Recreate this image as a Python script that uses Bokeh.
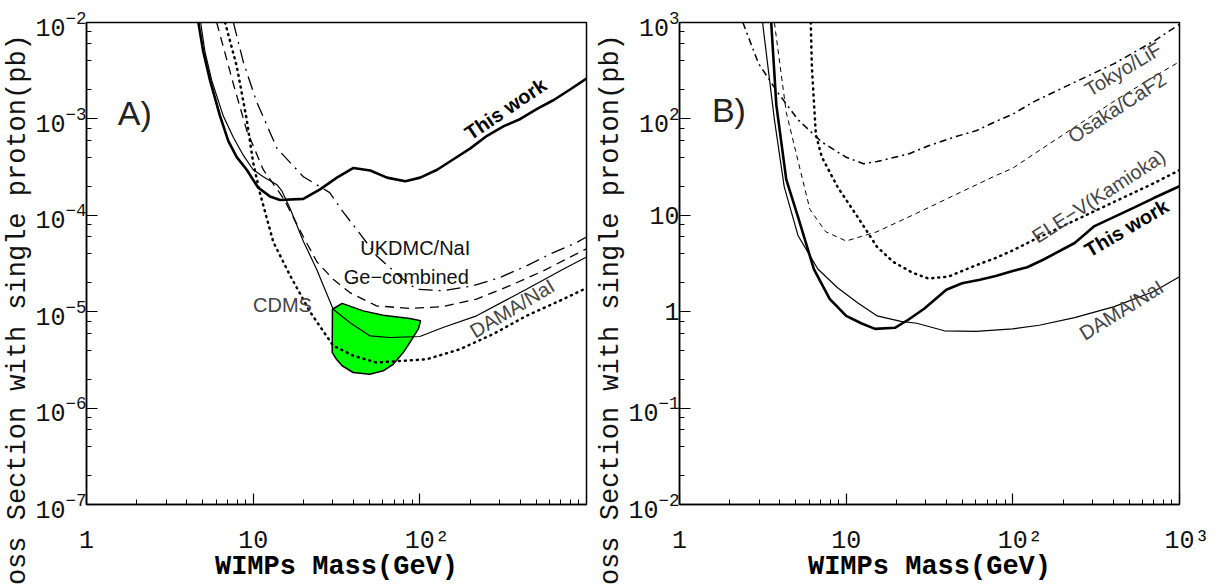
import math
from bokeh.plotting import figure
from bokeh.layouts import row
from bokeh.models import LogTickFormatter, FixedTicker, LogTicker, Label, Title
from bokeh.embed import file_html
from bokeh.resources import INLINE

# ---------------- Panel A) spin independent ----------------
a_this_mass = [4.69, 5.02, 5.51, 6.33, 7.10, 7.97, 9.15, 10.7, 12.6, 14.5, 20.0, 25.2, 31.8, 40.0,
               50.4, 63.5, 81.8, 100.6, 127, 160, 201, 253, 319, 401, 505, 636, 801, 1000]
a_this_sigma = [1.0e-2, 4.97e-3, 2.51e-3, 1.07e-3, 5.87e-4, 4.01e-4, 2.97e-4, 1.94e-4, 1.57e-4, 1.44e-4,
                1.48e-4, 1.86e-4, 2.46e-4, 3.10e-4, 2.92e-4, 2.46e-4, 2.26e-4, 2.46e-4, 2.97e-4,
                3.84e-4, 4.95e-4, 6.68e-4, 8.41e-4, 9.98e-4, 1.27e-3, 1.57e-3, 2.03e-3, 2.62e-3]

a_dama_mass = [4.84, 5.14, 5.64, 6.62, 7.61, 8.74, 10.0, 11.5, 13.9, 14.9, 16.7, 20.0, 24.1, 30.2,
               38.0, 50.1, 66.0, 100, 139, 219, 436, 724, 1000]
a_dama_sigma = [1.0e-2, 4.97e-3, 2.51e-3, 1.07e-3, 6.41e-4, 4.18e-4, 2.97e-4, 2.51e-4, 2.07e-4, 1.78e-4,
                1.16e-4, 5.39e-5, 2.72e-5, 1.06e-5, 7.73e-6, 5.62e-6, 5.40e-6, 5.53e-6, 6.9e-6,
                9.06e-6, 1.71e-5, 2.76e-5, 3.7e-5]

a_ukdmc_mass = [7.61, 8.74, 10.5, 13.9, 20.0, 28.8, 34.8, 41.7, 55.0, 79.5, 95.5, 138, 209, 302, 436,
                602, 871, 1000]
a_ukdmc_sigma = [1.0e-2, 3.85e-3, 1.50e-3, 4.95e-4, 2.51e-4, 1.72e-4, 1.07e-4, 7.18e-5, 3.80e-5,
                 2.17e-5, 1.71e-5, 1.65e-5, 1.86e-5, 2.26e-5, 2.99e-5, 3.95e-5, 5.22e-5, 5.95e-5]

a_ge_mass = [6.04, 7.61, 9.15, 11.5, 15.2, 20.0, 24.1, 30.2, 38.0, 55.0, 87.1, 138, 219, 347, 550, 1000]
a_ge_sigma = [1.0e-2, 2.30e-3, 7.60e-4, 2.97e-4, 1.50e-4, 6.0e-5, 3.3e-5, 2.17e-5, 1.58e-5, 1.15e-5,
              1.08e-5, 1.13e-5, 1.35e-5, 1.86e-5, 2.65e-5, 4.5e-5]

a_cdms_mass = [6.78, 7.97, 9.15, 10.0, 10.96, 13.2, 16.6, 21.9, 30.2, 39.8, 55.0, 110, 174, 275, 436,
               692, 1000]
a_cdms_sigma = [1.0e-2, 3.53e-3, 9.82e-4, 3.52e-4, 1.72e-4, 5.3e-5, 2.4e-5, 1.0e-5, 4.45e-6, 3.5e-6,
                2.97e-6, 3.21e-6, 4.08e-6, 5.85e-6, 9.06e-6, 1.30e-5, 1.76e-5]

a_region_mass = [29.9, 34.2, 45.7, 60.3, 87.1, 101, 97.8, 87.1, 79.5, 69.2, 60.3, 50.1, 39.8, 34.2,
                 31.6, 29.8]
a_region_sigma = [1.06e-5, 1.22e-5, 1.02e-5, 9.2e-6, 8.5e-6, 8.05e-6, 6.58e-6, 4.79e-6, 3.77e-6,
                  2.85e-6, 2.44e-6, 2.25e-6, 2.34e-6, 2.75e-6, 3.21e-6, 3.78e-6]

# ---------------- Panel B) spin dependent ----------------
b_this_mass = [3.55, 3.81, 4.37, 5.14, 6.40, 7.96, 10.0, 12.3, 14.9, 19.6, 23.7, 29.5, 39.9, 49.6,
               63.4, 78.9, 99.8, 122, 152, 235, 309, 406, 533, 701, 1000]
b_this_sigma = [1000, 140, 23.6, 9.64, 2.77, 1.36, 0.906, 0.759, 0.664, 0.681, 0.830, 1.08, 1.69, 1.97,
                2.15, 2.35, 2.64, 2.89, 3.46, 5.16, 7.73, 9.64, 12.0, 15.1, 20.0]

b_dama_mass = [3.15, 3.71, 4.25, 5.14, 6.76, 8.88, 11.7, 15.3, 21.3, 26.5, 38.8, 60.1, 99.8, 144, 235,
               406, 701, 1000]
b_dama_sigma = [1000, 98.2, 19.7, 6.18, 2.77, 1.77, 1.24, 0.906, 0.793, 0.759, 0.634, 0.624, 0.664,
                0.724, 0.867, 1.13, 1.62, 2.31]

b_tokyo_mass = [2.40, 2.98, 3.92, 5.14, 7.14, 9.91, 12.7, 15.3, 23.7, 31.2, 45.7, 60.1, 78.9, 99.8,
                136, 235, 406, 701, 1000]
b_tokyo_sigma = [1000, 375, 184, 98.2, 57.5, 40.3, 34.3, 36.1, 43.3, 52.6, 65.8, 75.2, 94.0, 112, 153,
                 240, 375, 640, 957]

b_osaka_mass = [3.71, 4.37, 5.14, 6.06, 7.54, 10.0, 15.3, 26.5, 45.7, 78.9, 99.8, 136, 235, 406, 701,
                1000]
b_osaka_sigma = [1000, 117, 36.8, 11.5, 6.75, 5.41, 6.75, 10.5, 16.5, 25.8, 30.8, 44.0, 82.2, 153, 274,
                 392]

b_ele_mass = [6.13, 6.23, 6.58, 7.14, 8.88, 11.7, 15.3, 19.1, 25.1, 31.2, 41.0, 60.1, 78.9, 99.8, 136,
              235, 406, 701, 1000]
b_ele_sigma = [1000, 343, 68.7, 40.3, 19.7, 9.64, 4.72, 3.30, 2.53, 2.21, 2.31, 3.03, 3.61, 4.32, 5.65,
               8.83, 13.8, 21.5, 29.4]

# ---------------- ticks ----------------
a_x_ticks = [1, 10, 100]
a_x_tick_labels = ["1", "10", "\u00a010\u00b2"]
b_x_ticks = [1, 10, 100, 1000]
b_x_tick_labels = ["1", "10", "\u00a010\u00b2", "\u00a010\u00b3"]
x_minor = [d * k for d in (1, 10, 100) for k in range(2, 10)]

Y_TITLE = "Cross Section with single proton(pb)"
X_TITLE = "WIMPs Mass(GeV)"
MONO = "Liberation Mono"
SANS = "Liberation Sans"
LBL = "#2a2a2a"


def make_fig(y_range, left, right, xticks, xlabels):
    p = figure(frame_width=500, frame_height=482, x_axis_type="log", y_axis_type="log",
               x_range=(1, 1000), y_range=y_range, output_backend="svg", toolbar_location=None,
               min_border_left=left, min_border_right=right, min_border_top=22,
               min_border_bottom=10)
    p.grid.visible = False
    p.outline_line_color = "black"
    p.outline_line_width = 1.5
    p.outline_line_alpha = 1
    p.background_fill_color = "white"
    p.border_fill_color = "white"
    p.xaxis.ticker = FixedTicker(ticks=xticks, minor_ticks=x_minor)
    p.yaxis.ticker = LogTicker()
    for ax in (p.xaxis[0], p.yaxis[0]):
        ax.major_tick_in = 11
        ax.major_tick_out = 0
        ax.minor_tick_in = 5
        ax.minor_tick_out = 0
        ax.major_tick_line_color = "black"
        ax.minor_tick_line_color = "black"
        ax.major_tick_line_width = 1.2
        ax.minor_tick_line_width = 1
        ax.axis_line_color = "black"
        ax.axis_line_width = 1.5
        ax.major_label_text_font = MONO
        ax.major_label_text_font_size = "25px"
        ax.major_label_text_color = "#111111"
        ax.formatter = LogTickFormatter()
    p.yaxis.major_label_overrides = {1: "1", 10: "10"}
    p.xaxis.major_label_overrides = dict(zip(xticks, xlabels))
    p.xaxis.major_label_standoff = 22
    p.yaxis.major_label_standoff = 0
    p.xaxis.axis_label = X_TITLE
    p.xaxis.axis_label_text_font = MONO
    p.xaxis.axis_label_text_font_style = "bold"
    p.xaxis.axis_label_text_font_size = "27px"
    p.xaxis.axis_label_text_color = "black"
    p.xaxis.axis_label_standoff = -7
    p.add_layout(Title(text=Y_TITLE, align="left", offset=-113, standoff=0, text_font=MONO,
                       text_font_size="27px", text_font_style="normal", text_color="#111111"),
                 "left")
    return p


def tag(p, x, y, text, angle=0.0, size="20px", style="normal", color=LBL, font=SANS):
    p.add_layout(Label(x=x, y=y, text=text, angle=math.radians(angle), text_align="center",
                       text_baseline="middle", text_font=font, text_font_size=size,
                       text_font_style=style, text_color=color))


dot = dict(line_dash="1 5", line_cap="round", line_width=2.5, line_color="black")

# ---- Panel A
pA = make_fig((1e-7, 1e-2), 82, 7, a_x_ticks, a_x_tick_labels)
pA.patch(a_region_mass, a_region_sigma, fill_color="#00ff00", line_color="black", line_width=1.5)
pA.line(a_cdms_mass, a_cdms_sigma, **dot)
pA.line(a_ge_mass, a_ge_sigma, line_color="black", line_width=1.3, line_dash="9 6")
pA.line(a_ukdmc_mass, a_ukdmc_sigma, line_color="black", line_width=1.3, line_dash="14 6 2 6")
pA.line(a_dama_mass, a_dama_sigma, line_color="black", line_width=1.2)
pA.line(a_this_mass, a_this_sigma, line_color="black", line_width=2.6)
tag(pA, 1.95, 1.16e-3, "A)", size="34px", color="#222222")
tag(pA, 327, 1.27e-3, "This work", angle=34, style="bold", color="black")
tag(pA, 93.9, 4.55e-5, "UKDMC/NaI", color="#111111")
tag(pA, 82.9, 2.30e-5, "Ge\u2212combined", color="#111111")
tag(pA, 15.0, 1.16e-5, "CDMS", color="#444444")
tag(pA, 358, 1.08e-5, "DAMA/NaI", angle=31, color="#444444")

# ---- Panel B
pB = make_fig((1e-2, 1e3), 82, 30, b_x_ticks, b_x_tick_labels)
pB.line(b_ele_mass, b_ele_sigma, **dot)
pB.line(b_osaka_mass, b_osaka_sigma, line_color="black", line_width=1.0, line_dash="5 4")
pB.line(b_tokyo_mass, b_tokyo_sigma, line_color="black", line_width=1.5, line_dash="7 4 2 4")
pB.line(b_dama_mass, b_dama_sigma, line_color="black", line_width=1.2)
pB.line(b_this_mass, b_this_sigma, line_color="black", line_width=2.6)
tag(pB, 1.98, 123, "B)", size="34px", color="#222222")
tag(pB, 458, 328, "Tokyo/LiF", angle=31, color="#444444")
tag(pB, 422, 131, "Osaka/CaF2", angle=33, color="#444444")
tag(pB, 327, 15.8, "ELE\u2212V(Kamioka)", angle=33, color="#444444")
tag(pB, 481, 7.38, "This work", angle=30.5, style="bold", color="black")
tag(pB, 448, 1.04, "DAMA/NaI", angle=32, color="#444444")

layout = row(pA, pB, spacing=0)
open("out.html", "w").write(file_html(layout, INLINE))
